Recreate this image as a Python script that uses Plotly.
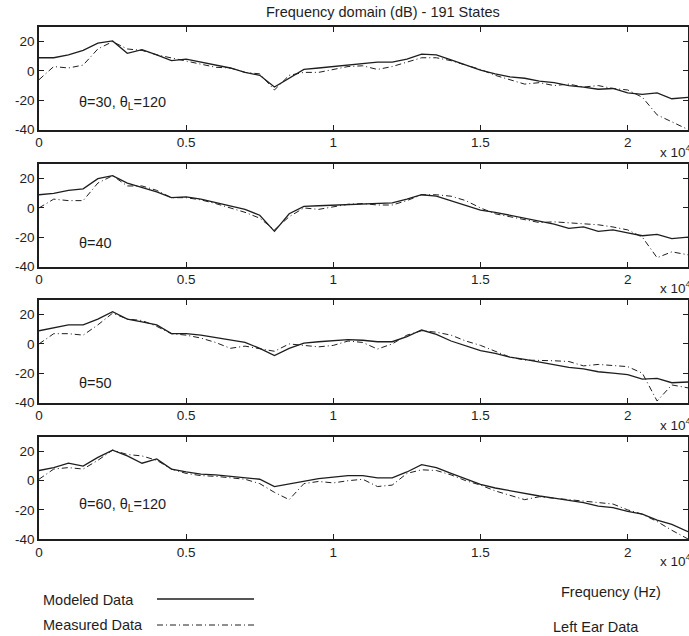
import plotly.graph_objects as go
from plotly.subplots import make_subplots

W, H = 689, 636

# Frequency grid (Hz)
freq = [0, 500, 1000, 1500, 2000, 2500, 3000, 3500, 4000, 4500,
        5000, 5500, 6000, 6500, 7000, 7500, 8000, 8500, 9000, 9500,
        10000, 10500, 11000, 11500, 12000, 12500, 13000, 13500, 14000, 14500,
        15000, 15500, 16000, 16500, 17000, 17500, 18000, 18500, 19000, 19500,
        20000, 20500, 21000, 21500, 22050]

modeled_30 = [9, 9, 11, 14, 19, 20.5, 12, 14.5, 11, 7,
              8, 6, 4, 2, -1, -3, -11, -5, 1, 2,
              3, 4, 5.5, 6, 6, 8, 11.5, 11, 7.5, 4,
              0.5, -2, -4, -5, -7, -8, -10, -11, -12.5, -12,
              -15, -16, -15, -19, -18]
measured_30 = [-6, 3, 2, 4, 15, 20, 15, 14, 11, 9,
               7, 5, 2.5, 2, -1, -2, -13, -3, -1, -1,
               1, 3, 3.5, 1, 3, 6, 9, 9, 7, 4,
               1, -3, -6, -9, -8, -10, -9, -11, -10, -12,
               -13, -18, -30, -35, -40]

modeled_40 = [9, 10, 12, 13, 20, 22, 17, 14, 11, 7,
              7.5, 6, 3.5, 1, -1, -5, -16, -4, 1, 1.5,
              2, 2.5, 3, 3.5, 3.5, 6, 9, 8, 5, 2,
              -1.5, -3, -5, -7, -9, -11, -14, -13, -16, -15,
              -17, -19, -18, -21, -20]
measured_40 = [0, 6, 5, 5, 17, 22, 15, 15, 12, 7,
               7, 5.5, 3, 0, -3, -7, -15, -6, 0, -1,
               1, 2.5, 3, 2, 2, 5, 9, 9, 8, 5,
               0, -4, -6, -8, -10, -9.5, -10, -11, -11.5, -13,
               -15, -20, -34, -30, -32]

modeled_50 = [9, 11, 13, 13, 17, 22, 17, 15, 13, 7,
              7, 6, 4.5, 3, 1, -3, -8, -3, 0.5, 1.5,
              2.5, 3, 2.5, 1.5, 1.5, 5, 9.5, 6.5, 2, -1.5,
              -4.5, -6.5, -9, -10.5, -12.5, -14, -16, -17, -19, -20,
              -21, -24, -23.5, -26.5, -26]
measured_50 = [0, 7, 7, 6, 13, 21, 17, 16, 12, 7,
               6, 4, 1, -3, -1.5, -3, -5, 0, -1, -2,
               -1, 2, 1, -3.5, 0, 6, 9, 8, 6, 2,
               -1, -5, -9, -11, -11, -11.5, -12, -15, -14, -15,
               -15.5, -20, -39, -28, -30]

modeled_60 = [7, 9, 12, 10, 16, 21, 17, 12, 15, 8,
              6, 4.5, 4, 3, 2.5, 1, -4, -2, 0, 1.5,
              2.5, 3.5, 3.5, 2, 2, 6, 11, 9, 5, 1,
              -2.5, -5, -7, -9, -10.5, -12, -13.5, -15, -17.5, -18.5,
              -21, -23, -27, -30, -35]
measured_60 = [1, 8, 9, 8, 14, 21, 18, 17, 14, 8,
               5, 3.5, 3, 2, 1, -2, -8, -13, -2, -0.5,
               -1.5, 0, 1, -4, -3, 5, 7.5, 7, 4, 0,
               -3, -7, -10, -13, -11, -12, -13, -14, -15, -16,
               -20, -23, -28, -34, -40]

panel_labels = ["θ=30, θ<sub>L</sub>=120", "θ=40", "θ=50", "θ=60, θ<sub>L</sub>=120"]
label_levels = [-22, -24, -27, -17]
x_tickvals = [0, 5000, 10000, 15000, 20000]
x_ticktext = ["0", "0.5", "1", "1.5", "2"]
y_tickvals = [-40, -20, 0, 20]
y_ticktext = ["-40", "-20", "0", "20"]

modeled = [modeled_30, modeled_40, modeled_50, modeled_60]
measured = [measured_30, measured_40, measured_50, measured_60]

# panel pixel extents on screen (top, bottom)
panels_px = [(27, 129.5), (164, 266.5), (300, 402.5), (437, 539)]
PLOT_LEFT, PLOT_RIGHT = 39, 688

FONT = "Liberation Sans, Arial, sans-serif"
FS = 13.5
FA = 14.5
INK = "#1e1e1e"
DASHDOT = "6px,3px,1px,3px"


def px(x):
    # screen x -> paper x (paper spans the plot area between margins)
    return (x - PLOT_LEFT) / (PLOT_RIGHT - PLOT_LEFT)


def py(y):
    return 1 - y / H


fig = make_subplots(rows=4, cols=1)

for i in range(4):
    r = i + 1
    fig.add_trace(go.Scatter(x=freq, y=modeled[i], mode="lines",
                             line=dict(color=INK, width=1.3), showlegend=False,
                             hoverinfo="skip"),
                  row=r, col=1)
    fig.add_trace(go.Scatter(x=freq, y=measured[i], mode="lines",
                             line=dict(color=INK, width=1, dash=DASHDOT), showlegend=False,
                             hoverinfo="skip"),
                  row=r, col=1)
    top, bot = panels_px[i]
    dom = [py(bot), py(top)]
    xa = "xaxis" if r == 1 else f"xaxis{r}"
    ya = "yaxis" if r == 1 else f"yaxis{r}"
    fig.layout[xa].update(range=[0, 22050], domain=[0, 1], tickvals=x_tickvals,
                          ticktext=x_ticktext, ticks="inside", ticklen=5, tickcolor=INK,
                          showline=True, linecolor=INK, linewidth=1.5, mirror="ticks",
                          showgrid=False, zeroline=False, automargin=False,
                          tickfont=dict(size=FS, color=INK),
                          anchor=f"y{r}" if r > 1 else "y")
    fig.layout[ya].update(range=[-40, 30], domain=dom, tickvals=y_tickvals,
                          ticktext=y_ticktext, ticks="inside", ticklen=5, tickcolor=INK,
                          showline=True, linecolor=INK, linewidth=1.5, mirror="ticks",
                          showgrid=False, zeroline=False, automargin=False,
                          tickfont=dict(size=FS, color=INK),
                          anchor=f"x{r}" if r > 1 else "x")
    fig.add_annotation(x=1300, y=label_levels[i], xref=f"x{r}" if r > 1 else "x",
                       yref=f"y{r}" if r > 1 else "y", text=panel_labels[i],
                       showarrow=False, xanchor="left", yanchor="middle",
                       font=dict(size=FA, color=INK))
    fig.add_annotation(x=px(658), y=py(bot + 21), xref="paper", yref="paper",
                       text="x 10<sup>4</sup>", showarrow=False, xanchor="left",
                       yanchor="middle", font=dict(size=FS, color=INK))

fig.add_annotation(x=px(383), y=py(12), xref="paper", yref="paper",
                   text="Frequency domain (dB) - 191 States", showarrow=False,
                   xanchor="center", yanchor="middle", font=dict(size=FA, color=INK))
fig.add_annotation(x=px(611), y=py(592), xref="paper", yref="paper",
                   text="Frequency (Hz)", showarrow=False,
                   xanchor="center", yanchor="middle", font=dict(size=FA, color=INK))
fig.add_annotation(x=px(596), y=py(627), xref="paper", yref="paper",
                   text="Left Ear Data", showarrow=False,
                   xanchor="center", yanchor="middle", font=dict(size=FA, color=INK))
fig.add_annotation(x=px(41), y=py(600), xref="paper", yref="paper",
                   text="Modeled Data", showarrow=False,
                   xanchor="left", yanchor="middle", font=dict(size=FA, color=INK))
fig.add_annotation(x=px(41), y=py(625), xref="paper", yref="paper",
                   text="Measured Data", showarrow=False,
                   xanchor="left", yanchor="middle", font=dict(size=FA, color=INK))
fig.add_shape(type="line", xref="paper", yref="paper", x0=px(157), x1=px(254),
              y0=py(599), y1=py(599), line=dict(color=INK, width=1.3))
fig.add_shape(type="line", xref="paper", yref="paper", x0=px(157), x1=px(254),
              y0=py(625), y1=py(625), line=dict(color=INK, width=1, dash=DASHDOT))

fig.update_layout(width=W, height=H,
                  margin=dict(l=PLOT_LEFT, r=W - PLOT_RIGHT, t=0, b=0),
                  paper_bgcolor="white", plot_bgcolor="white", hovermode=False,
                  font=dict(family=FONT, size=FS, color=INK), showlegend=False)

# remove the default page margin so the figure sits at the window's top-left corner
fig.write_html("out.html", config={"displayModeBar": False},
               post_script="document.body.style.margin='0px';")
